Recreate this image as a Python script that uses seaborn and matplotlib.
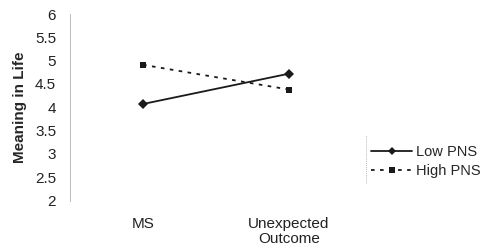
import pandas as pd
import seaborn as sns
import matplotlib.pyplot as plt
from matplotlib.lines import Line2D

# donnees
conditions = ["MS", "Unexpected\nOutcome"]
low_pns = [4.07, 4.72]
high_pns = [4.91, 4.38]
groups = ["Low PNS", "High PNS"]

df = pd.DataFrame({
    "condition": conditions * 2,
    "x": [0, 1, 0, 1],
    "meaning": low_pns + high_pns,
    "group": [groups[0]] * 2 + [groups[1]] * 2,
})

sns.set_style("white")
plt.rcParams["font.family"] = ["Liberation Sans", "DejaVu Sans"]

fig = plt.figure(figsize=(4.87, 2.5), dpi=100)
ax = fig.add_axes([0.144, 0.198, 0.599, 0.746])

sns.lineplot(
    data=df, x="x", y="meaning", hue="group", style="group",
    palette=["#1a1a1a", "#1a1a1a"],
    markers={"Low PNS": "D", "High PNS": "s"},
    dashes={"Low PNS": "", "High PNS": (2, 3)},
    linewidth=1.3, markersize=5, markeredgewidth=0,
    legend=False, ax=ax,
)

ax.set_xlim(-0.5, 1.5)
ax.set_ylim(2, 6)
ax.set_yticks([2, 2.5, 3, 3.5, 4, 4.5, 5, 5.5, 6])
ax.set_yticklabels(["2", "2.5", "3", "3.5", "4", "4.5", "5", "5.5", "6"])
ax.set_xticks([0, 1])
ax.set_xticklabels(conditions, linespacing=1.1)
ax.set_xticks([0.5, 1.5], minor=True)
ax.tick_params(axis="y", length=0, labelsize=11, pad=10, colors="#222222")
ax.tick_params(axis="x", which="major", length=0, labelsize=11, pad=12, colors="#222222")
ax.tick_params(axis="x", which="minor", length=3, width=0.6, color="#aaaaaa", direction="in")
ax.set_xlabel("")
ax.set_ylabel("Meaning in Life", fontsize=11, fontweight="bold", labelpad=6)

for s in ["top", "right", "bottom"]:
    ax.spines[s].set_visible(False)
ax.spines["left"].set_color("#bbbbbb")
ax.spines["left"].set_linestyle((0, (1, 1)))
ax.spines["left"].set_linewidth(0.7)

# legende a droite
handles = [
    Line2D([], [], color="#1a1a1a", lw=1.3, marker="D", markersize=4, markeredgewidth=0),
    Line2D([], [], color="#1a1a1a", lw=1.3, ls=(0, (2, 3)), marker="s", markersize=5, markeredgewidth=0),
]
fig.legend(handles, groups, loc="center left", bbox_to_anchor=(0.762, 0.355),
           frameon=False, fontsize=10.5, handlelength=2.8, handletextpad=0.25,
           labelspacing=0.35, borderaxespad=0, borderpad=0)
fig.add_artist(Line2D([0.752, 0.752], [0.27, 0.46], color="#bbbbbb", lw=0.7,
                      ls=(0, (1, 1)), transform=fig.transFigure))

fig.savefig("out.png", dpi=100)
